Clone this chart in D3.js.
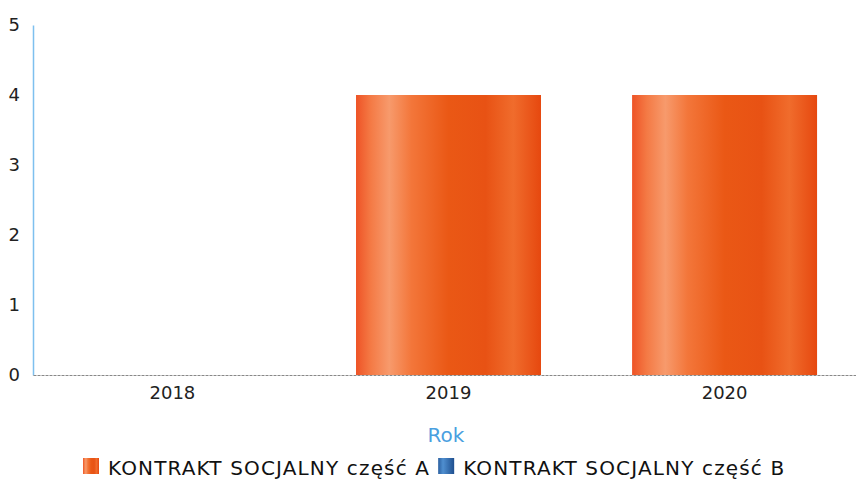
<!DOCTYPE html>
<html>
<head>
<meta charset="utf-8">
<script src="https://cdn.jsdelivr.net/npm/d3@7"></script>
<style>
  body { margin: 0; background: #fff; }
  text { font-family: "DejaVu Sans", "Noto Sans", sans-serif; }
</style>
</head>
<body>
<svg width="856" height="487"></svg>
<script>
// data
const years = ["2018", "2019", "2020"];
const seriesNames = ["KONTRAKT SOCJALNY część A", "KONTRAKT SOCJALNY część B"];
const valuesA = [0, 4, 4];
const valuesB = [0, 0, 0];
const yTicks = [0, 1, 2, 3, 4, 5];

const svg = d3.select("svg");
const margin = { left: 33, right: 1, top: 25, bottom: 112 };
const width = 856, height = 487;

const x = d3.scaleBand()
  .domain(years)
  .range([margin.left, 864])
  .paddingInner(0.33)
  .paddingOuter(0.17);

const y = d3.scaleLinear()
  .domain([0, 5])
  .range([height - margin.bottom, margin.top]);

// gradients
const defs = svg.append("defs");
const gA = defs.append("linearGradient").attr("id", "gA").attr("x1", "0").attr("x2", "1").attr("y1", "0").attr("y2", "0");
[["0%", "#ee5326"], ["8%", "#f47a45"], ["18%", "#f79a6c"], ["30%", "#f3763a"], ["50%", "#ea5815"], ["70%", "#e85214"], ["85%", "#f06c2c"], ["100%", "#e6480f"]]
  .forEach(s => gA.append("stop").attr("offset", s[0]).attr("stop-color", s[1]));
const gB = defs.append("linearGradient").attr("id", "gB").attr("x1", "0").attr("x2", "1").attr("y1", "0").attr("y2", "0");
[["0%", "#2a5fa0"], ["30%", "#4f8fd0"], ["100%", "#1f4f8f"]]
  .forEach(s => gB.append("stop").attr("offset", s[0]).attr("stop-color", s[1]));

// y axis
const yAxis = svg.append("g")
  .attr("transform", `translate(${margin.left},0)`)
  .call(d3.axisLeft(y).tickValues(yTicks).tickFormat(d3.format("d")).tickSize(0).tickPadding(13));
yAxis.select(".domain").attr("stroke", "#7ec0ef").attr("stroke-width", 1.5);
yAxis.selectAll("text").attr("font-size", 18).attr("fill", "#222");

// x axis
const xAxis = svg.append("g")
  .attr("transform", `translate(0,${y(0)})`)
  .call(d3.axisBottom(x).tickSize(0).tickPadding(11));
xAxis.select(".domain").attr("stroke", "#888").attr("stroke-dasharray", "3,1").attr("stroke-width", 1);
xAxis.selectAll("text").attr("font-size", 18).attr("fill", "#222");

// stacked bars
const rows = years.map((yr, i) => ({ year: yr, a: valuesA[i], b: valuesB[i] }));
const stack = d3.stack().keys(["a", "b"])(rows);
const fills = ["url(#gA)", "url(#gB)"];

svg.append("g").selectAll("g")
  .data(stack)
  .join("g")
  .attr("fill", (d, i) => fills[i])
  .selectAll("rect")
  .data(d => d.filter(p => p[1] - p[0] > 0))
  .join("rect")
  .attr("x", d => x(d.data.year))
  .attr("y", d => y(d[1]))
  .attr("width", x.bandwidth())
  .attr("height", d => y(d[0]) - y(d[1]));

// axis title
svg.append("text")
  .attr("x", 446)
  .attr("y", 442)
  .attr("text-anchor", "middle")
  .attr("font-size", 20)
  .attr("fill", "#4a9fe0")
  .text("Rok");

// legend
const legend = svg.append("g").attr("transform", "translate(83,475)");
let lx = 0;
seriesNames.forEach((name, i) => {
  const g = legend.append("g").attr("transform", `translate(${lx},0)`);
  g.append("rect").attr("x", 0).attr("y", -17).attr("width", 16).attr("height", 16).attr("fill", fills[i]);
  const t = g.append("text").attr("x", 25).attr("y", 0).attr("font-size", 20)
    .attr("letter-spacing", 1.15).attr("fill", "#111").text(name);
  lx += 25 + t.node().getComputedTextLength() + 8;
});
</script>
</body>
</html>
